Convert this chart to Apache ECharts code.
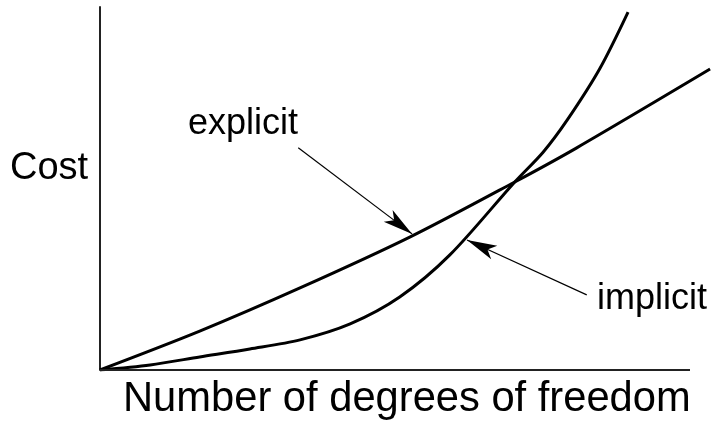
<!DOCTYPE html>
<html>
<head>
<meta charset="utf-8">
<script src="https://cdn.jsdelivr.net/npm/echarts@6/dist/echarts.min.js"></script>
<style>
  html, body { margin: 0; padding: 0; background: #fff; }
  #chart { width: 711px; height: 425px; }
</style>
</head>
<body>
<div id="chart"></div>
<script>
// curve points (x: degrees of freedom, y: cost, both 0..100)
var explicitPts = [[0, 0], [16.9, 10.7], [33.9, 22.6], [52.5, 36.6], [70.3, 51.8], [80.8, 61.2], [103.4, 82.9]];
var implicitPts = [[0, 0], [8.5, 1.4], [16.9, 3.6], [25.4, 5.8], [33.9, 8.3], [42.4, 12.7], [50.8, 20.1], [59.3, 31.7], [70.3, 51.8], [75.1, 60.0], [79.2, 68.9], [84.7, 83.0], [89.5, 98.6]];

// axis extent drawn as a line (the explicit curve runs past its end)
var xAxisLine = [[0, 0], [100, 0]];

// annotation arrows: [from, to]
var explicitArrow = [[33.6, 61.2], [52.9, 37.5]];
var implicitArrow = [[82.5, 20.7], [62.2, 35.8]];

var labelFont = 'Liberation Sans, Arial, sans-serif';

var chart = echarts.init(document.getElementById('chart'));

function arrowLine(pts) {
  return {
    silent: true, symbol: ['none', 'arrow'], symbolSize: [11, 30],
    label: { show: false },
    lineStyle: { color: '#000', width: 1.2, type: 'solid' },
    data: [[{ coord: pts[0] }, { coord: pts[1] }]]
  };
}

var option = {
  animation: false,
  grid: { left: 100, right: 0, top: 7, bottom: 55 },
  xAxis: {
    type: 'value', min: 0, max: 611 / 5.9,
    axisLine: { show: false },
    axisTick: { show: false }, axisLabel: { show: false }, splitLine: { show: false }
  },
  yAxis: {
    type: 'value', min: 0, max: 100,
    axisLine: { show: true, lineStyle: { color: '#222', width: 2 } },
    axisTick: { show: false }, axisLabel: { show: false }, splitLine: { show: false }
  },
  graphic: [
    { type: 'text', left: 10, top: 150, style: { text: 'Cost', font: '38px ' + labelFont, fill: '#000' } },
    { type: 'text', left: 123, top: 379, style: { text: 'Number of degrees of freedom', font: '41.7px ' + labelFont, fill: '#000' } },
    { type: 'text', left: 188, top: 106, style: { text: 'explicit', font: '36px ' + labelFont, fill: '#000' } },
    { type: 'text', left: 597, top: 281, style: { text: 'implicit', font: '36px ' + labelFont, fill: '#000' } }
  ],
  series: [
    {
      name: 'axis', type: 'line', data: [], silent: true,
      markLine: {
        silent: true, symbol: ['none', 'none'], label: { show: false },
        lineStyle: { color: '#222', width: 2, type: 'solid' },
        data: [[{ coord: xAxisLine[0] }, { coord: xAxisLine[1] }]]
      }
    },
    {
      name: 'explicit', type: 'line', smooth: 0.3, showSymbol: false,
      lineStyle: { color: '#000', width: 3 },
      data: explicitPts,
      markLine: arrowLine(explicitArrow)
    },
    {
      name: 'implicit', type: 'line', smooth: 0.3, showSymbol: false,
      lineStyle: { color: '#000', width: 3 },
      data: implicitPts,
      markLine: arrowLine(implicitArrow)
    }
  ]
};

chart.setOption(option);
</script>
</body>
</html>
